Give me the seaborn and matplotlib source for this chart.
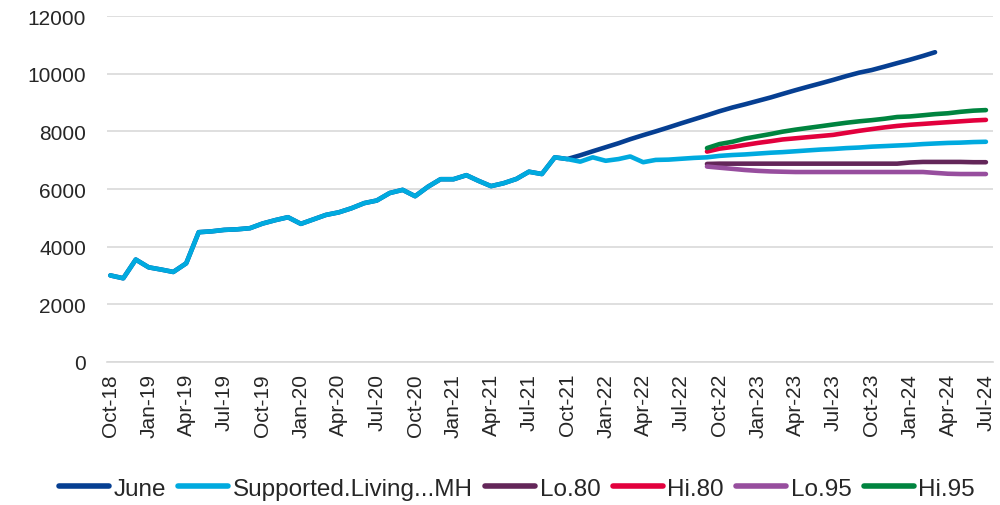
import pandas as pd
import matplotlib
matplotlib.use('Agg')
import matplotlib.pyplot as plt
import matplotlib.dates as mdates
import seaborn as sns

# --- Setup ---
sns.set_style('white')
plt.rcParams['font.family'] = ['Liberation Sans', 'DejaVu Sans']

# --- Data ---
months = pd.date_range('2018-10-01', '2024-07-01', freq='MS')  # Oct-18 .. Jul-24

supported = [3000, 2900, 3550, 3280, 3200, 3120, 3420, 4500, 4530, 4580,
             4600, 4640, 4800, 4920, 5020, 4790, 4950, 5100, 5190, 5330,
             5510, 5600, 5860, 5970, 5750, 6080, 6340, 6340, 6480, 6290,
             6100, 6200, 6350, 6600, 6520, 7100, 7040, 6950, 7100, 6980,
             7040, 7130, 6930, 7010, 7020, 7050, 7080, 7100, 7150, 7180,
             7200, 7230, 7260, 7280, 7310, 7340, 7370, 7390, 7420, 7440,
             7470, 7490, 7510, 7530, 7560, 7580, 7600, 7610, 7630, 7640]

# June follows the actuals up to Oct-21, then its own path to Mar-24
june_shared = 37
june_extra = [7170, 7310, 7450, 7590, 7730, 7870, 8000, 8140, 8280, 8420,
              8560, 8700, 8830, 8940, 9060, 9180, 9300, 9430, 9550, 9670,
              9790, 9920, 10040, 10130, 10250, 10370, 10490, 10620, 10750]

# forecast bands, Sep-22 .. Jul-24
band_start = 47
lo80 = [6870, 6880, 6880, 6880, 6880, 6880, 6880, 6880, 6880, 6880, 6880, 6880,
        6880, 6880, 6880, 6880, 6920, 6940, 6940, 6940, 6940, 6930, 6930]
hi80 = [7300, 7400, 7460, 7530, 7600, 7660, 7720, 7760, 7800, 7840, 7880, 7950,
        8020, 8080, 8140, 8190, 8230, 8260, 8290, 8320, 8350, 8380, 8400]
lo95 = [6780, 6740, 6700, 6660, 6630, 6610, 6600, 6590, 6590, 6590, 6590, 6590,
        6590, 6590, 6590, 6590, 6590, 6590, 6560, 6530, 6520, 6520, 6520]
hi95 = [7420, 7560, 7640, 7750, 7830, 7910, 7990, 8060, 8120, 8180, 8240, 8300,
        8350, 8390, 8440, 8500, 8520, 8560, 8600, 8630, 8680, 8720, 8740]

series_names = ['June', 'Supported.Living...MH', 'Lo.80', 'Hi.80', 'Lo.95', 'Hi.95']
series_colors = ['#063F92', '#00AADF', '#632659', '#E2003D', '#974E9E', '#00843F']

# --- Long-form table ---
june = supported[:june_shared] + june_extra
band_months = months[band_start:]
frames = [
    pd.DataFrame({'date': months[:len(june)], 'value': june, 'series': 'June'}),
    pd.DataFrame({'date': months, 'value': supported, 'series': 'Supported.Living...MH'}),
    pd.DataFrame({'date': band_months, 'value': lo80, 'series': 'Lo.80'}),
    pd.DataFrame({'date': band_months, 'value': hi80, 'series': 'Hi.80'}),
    pd.DataFrame({'date': band_months, 'value': lo95, 'series': 'Lo.95'}),
    pd.DataFrame({'date': band_months, 'value': hi95, 'series': 'Hi.95'}),
]
df = pd.concat(frames, ignore_index=True)

# --- Plot ---
fig = plt.figure(figsize=(10, 5.06), dpi=100)
ax = fig.add_axes([0.107, 0.283, 0.886, 0.683])

sns.lineplot(data=df, x='date', y='value', hue='series', hue_order=series_names,
             palette=dict(zip(series_names, series_colors)), linewidth=3.3,
             ax=ax, legend=False, solid_capstyle='round')

ax.set_ylim(0, 12000)
ax.set_yticks(range(0, 12001, 2000))
ax.set_xlim(months[0] - pd.Timedelta(days=8), months[-1] + pd.Timedelta(days=17))
ax.set_xticks(months[::3])
ax.xaxis.set_major_formatter(mdates.DateFormatter('%b-%y'))
ax.set_xlabel('')
ax.set_ylabel('')

ax.grid(axis='y', color='#d9d9d9', linewidth=1.2)
ax.set_axisbelow(True)
for side in ['top', 'right', 'left']:
    ax.spines[side].set_visible(False)
ax.spines['bottom'].set_color('#d9d9d9')
ax.spines['bottom'].set_linewidth(1.2)
ax.tick_params(axis='x', length=6, color='#d9d9d9', width=1.2, labelsize=15,
               labelrotation=90, pad=2)
ax.tick_params(axis='y', length=0, labelsize=15, pad=15)

handles = [plt.Line2D([], [], color=c, linewidth=4) for c in series_colors]
fig.legend(handles, series_names, loc='center', bbox_to_anchor=(0.517, 0.032),
           ncol=6, frameon=False, handlelength=2.05, handletextpad=0.2,
           columnspacing=0.5, fontsize=17.5)

plt.savefig('out.png', dpi=100)
plt.close()
